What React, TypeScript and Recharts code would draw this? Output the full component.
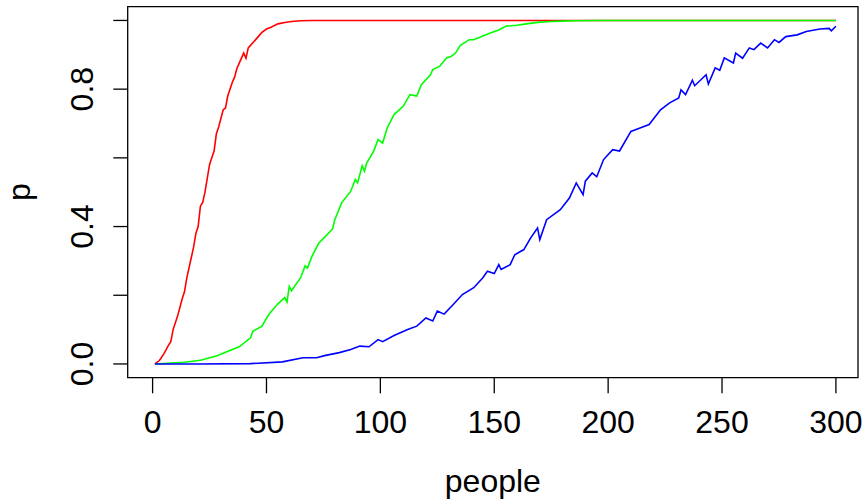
import React from 'react';
import { LineChart, Line, XAxis, YAxis, ReferenceArea, Label } from 'recharts';

// simulated birthday-problem curves
const redPeople = [1, 3, 5, 7, 8, 9, 11, 13, 14, 15, 17, 18, 19, 20, 21, 22, 23, 24, 25, 26, 27, 28, 29, 31, 32, 33, 35, 36, 37, 38, 40, 41, 42, 44, 46, 48, 50, 52, 55, 58, 61, 65, 70, 100, 150, 200, 250, 300];
const redP = [0, 0.01, 0.03, 0.055, 0.065, 0.1, 0.14, 0.19, 0.21, 0.25, 0.31, 0.34, 0.38, 0.4, 0.46, 0.47, 0.5, 0.54, 0.58, 0.6, 0.62, 0.67, 0.69, 0.74, 0.745, 0.78, 0.82, 0.835, 0.86, 0.875, 0.905, 0.89, 0.92, 0.935, 0.95, 0.965, 0.975, 0.98, 0.99, 0.994, 0.997, 0.999, 1, 1, 1, 1, 1, 1];

const greenPeople = [1, 14, 21, 28, 32, 38, 43, 44, 48, 51, 55, 58, 59, 60, 61, 65, 67, 68, 70, 73, 76, 79, 80, 83, 87, 89, 90, 92, 93, 94, 97, 99, 101, 103, 106, 110, 113, 116, 118, 122, 123, 126, 129, 131, 133, 135, 139, 141, 145, 148, 152, 155, 160, 164, 170, 175, 180, 185, 195, 300];
const greenP = [0, 0.005, 0.011, 0.023, 0.034, 0.05, 0.076, 0.095, 0.11, 0.144, 0.175, 0.193, 0.18, 0.226, 0.213, 0.251, 0.286, 0.279, 0.314, 0.352, 0.372, 0.393, 0.42, 0.469, 0.503, 0.537, 0.527, 0.577, 0.561, 0.585, 0.619, 0.653, 0.643, 0.687, 0.726, 0.75, 0.784, 0.78, 0.813, 0.842, 0.857, 0.866, 0.891, 0.895, 0.905, 0.927, 0.944, 0.944, 0.955, 0.963, 0.972, 0.983, 0.986, 0.99, 0.995, 0.997, 0.998, 0.999, 1, 1];

const bluePeople = [1, 20, 43, 57, 66, 72, 76, 82, 87, 91, 95, 99, 101, 106, 112, 116, 120, 123, 125, 128, 132, 136, 141, 145, 147, 150, 152, 153, 157, 159, 163, 166, 169, 170, 173, 179, 183, 186, 189, 190, 193, 195, 198, 202, 205, 210, 214, 218, 223, 227, 231, 232, 234, 237, 238, 243, 244, 247, 249, 251, 255, 256, 259, 262, 264, 267, 270, 273, 275, 278, 283, 287, 293, 297, 298, 300];
const blueP = [0, 0, 0.001, 0.006, 0.018, 0.018, 0.025, 0.033, 0.042, 0.052, 0.05, 0.071, 0.065, 0.083, 0.1, 0.11, 0.134, 0.125, 0.154, 0.145, 0.173, 0.202, 0.222, 0.251, 0.27, 0.263, 0.289, 0.275, 0.289, 0.318, 0.333, 0.367, 0.396, 0.362, 0.42, 0.449, 0.483, 0.527, 0.493, 0.532, 0.556, 0.545, 0.595, 0.624, 0.62, 0.677, 0.687, 0.697, 0.74, 0.76, 0.774, 0.798, 0.784, 0.826, 0.81, 0.842, 0.815, 0.862, 0.855, 0.891, 0.876, 0.905, 0.89, 0.92, 0.915, 0.934, 0.92, 0.944, 0.936, 0.953, 0.958, 0.968, 0.975, 0.977, 0.97, 0.983];

const xTicks = [0, 50, 100, 150, 200, 250, 300];
const yTicks = [0, 0.2, 0.4, 0.6, 0.8, 1];
// R drops the labels that would overlap
const yTickLabels: Record<number, string> = { 0: '0.0', 0.4: '0.4', 0.8: '0.8' };

const X_MIN = -10.93;
const X_MAX = 309.7;
const Y_MIN = -0.04;
const Y_MAX = 1.04;

const FONT = '"Liberation Sans", Arial, Helvetica, sans-serif';

const toRows = (xs: number[], ys: number[]) => xs.map((n, i) => ({ n, p: ys[i] }));

const redData = toRows(redPeople, redP);
const greenData = toRows(greenPeople, greenP);
const blueData = toRows(bluePeople, blueP);

function XTick({ x, y, payload }: any) {
  return (
    <text x={x} y={y + 40} textAnchor="middle" fontSize={32} fontFamily={FONT} fill="#000">
      {payload.value}
    </text>
  );
}

function YTick({ x, y, payload }: any) {
  const label = yTickLabels[payload.value];
  if (!label) return null;
  const bx = x - 20;
  return (
    <text
      x={bx}
      y={y}
      transform={`rotate(-90, ${bx}, ${y})`}
      textAnchor="middle"
      fontSize={32}
      fontFamily={FONT}
      fill="#000"
    >
      {label}
    </text>
  );
}

export default function App() {
  return (
    <div style={{ position: 'absolute', left: 0, top: 0, width: 866, height: 500, background: '#fff' }}>
      <LineChart width={866} height={500} margin={{ top: 6.7, right: 8, bottom: 0, left: 0 }}>
        <XAxis
          type="number"
          dataKey="n"
          domain={[X_MIN, X_MAX]}
          ticks={xTicks}
          allowDataOverflow
          height={122.3}
          tickSize={15.6}
          tickMargin={0}
          tickLine={{ stroke: '#000', strokeWidth: 1.3 }}
          axisLine={false}
          tick={<XTick />}
        >
          <Label
            content={({ viewBox }: any) => (
              <text
                x={viewBox.x + viewBox.width / 2}
                y={viewBox.y + 114}
                textAnchor="middle"
                fontSize={32}
                fontFamily={FONT}
                fill="#000"
              >
                people
              </text>
            )}
          />
        </XAxis>
        <YAxis
          type="number"
          domain={[Y_MIN, Y_MAX]}
          ticks={yTicks}
          allowDataOverflow
          width={127.7}
          tickSize={14.4}
          tickMargin={0}
          tickLine={{ stroke: '#000', strokeWidth: 1.3 }}
          axisLine={false}
          tick={<YTick />}
        >
          <Label
            content={({ viewBox }: any) => {
              const cx = 30;
              const cy = viewBox.y + viewBox.height / 2;
              return (
                <text
                  x={cx}
                  y={cy}
                  transform={`rotate(-90, ${cx}, ${cy})`}
                  textAnchor="middle"
                  fontSize={32}
                  fontFamily={FONT}
                  fill="#000"
                >
                  p
                </text>
              );
            }}
          />
        </YAxis>
        <ReferenceArea
          x1={X_MIN}
          x2={X_MAX}
          y1={Y_MIN}
          y2={Y_MAX}
          fill="none"
          stroke="#000"
          strokeWidth={1.3}
          ifOverflow="visible"
        />
        <Line data={redData} dataKey="p" type="linear" stroke="#ff0000" strokeWidth={1.6} dot={false} isAnimationActive={false} />
        <Line data={greenData} dataKey="p" type="linear" stroke="#00ff00" strokeWidth={1.6} dot={false} isAnimationActive={false} />
        <Line data={blueData} dataKey="p" type="linear" stroke="#0000ff" strokeWidth={1.6} dot={false} isAnimationActive={false} />
      </LineChart>
    </div>
  );
}
